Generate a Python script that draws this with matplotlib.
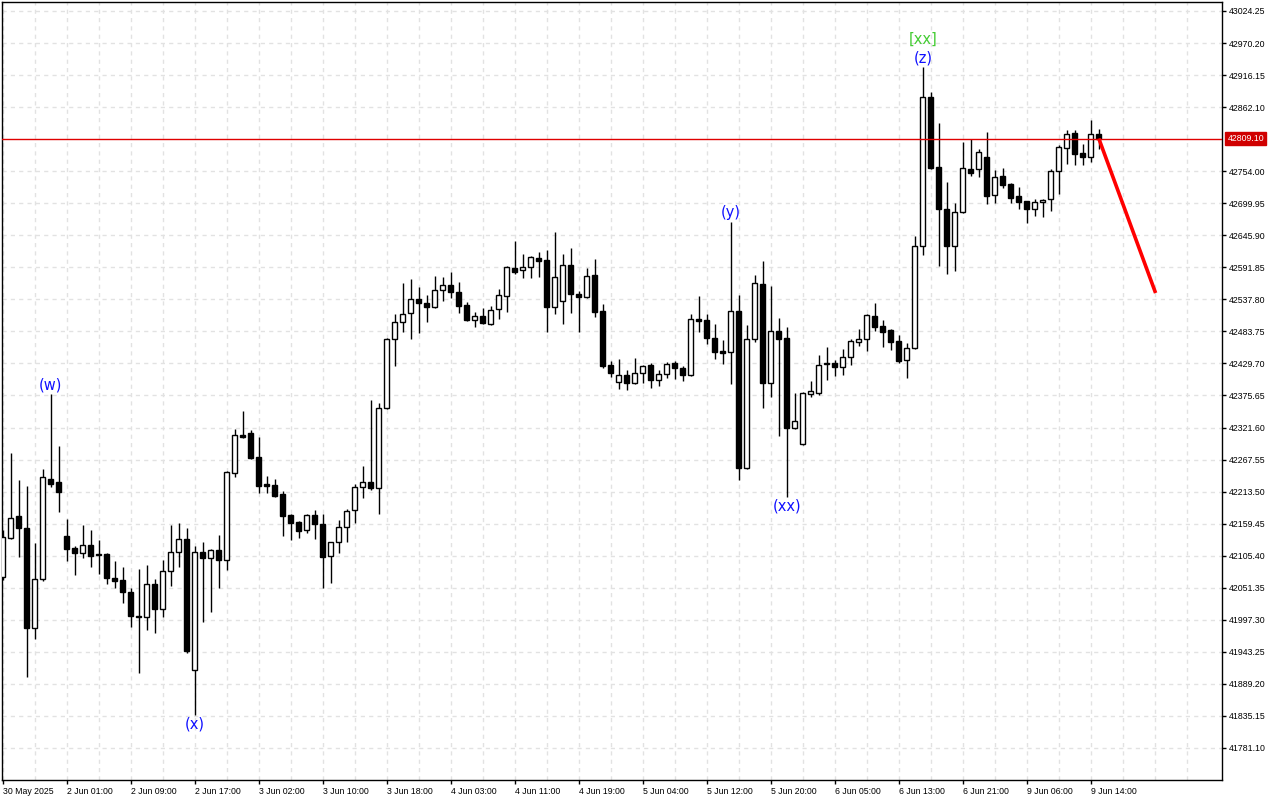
import matplotlib
matplotlib.use('Agg')
import matplotlib.pyplot as plt

# --- 資料 (H1 K線, 30 May - 9 Jun 2025) ---
opens = [42069.4, 42135.2, 42172.3, 42152.1, 41983.4, 42066.0, 42234.7, 42229.7, 42138.6, 42118.3,
         42109.9, 42123.4, 42107.5, 42107.5, 42067.7, 42064.3, 42044.1, 42003.6, 42001.9, 42057.6,
         42015.4, 42079.5, 42111.6, 42133.5, 41912.5, 42111.6, 42101.5, 42114.9, 42098.1, 42244.8,
         42309.0, 42312.3, 42271.9, 42226.3, 42224.6, 42208.7, 42174.0, 42162.2, 42148.7, 42174.0,
         42158.8, 42104.8, 42128.5, 42153.8, 42182.4, 42221.2, 42229.7, 42219.5, 42354.5, 42470.9,
         42499.6, 42514.8, 42538.4, 42531.6, 42524.9, 42553.6, 42562.0, 42550.2, 42528.3, 42502.9,
         42509.7, 42496.2, 42521.5, 42543.4, 42590.7, 42587.3, 42592.4, 42607.5, 42604.2, 42524.9,
         42535.0, 42595.8, 42546.8, 42541.8, 42578.9, 42518.2, 42427.1, 42398.4, 42410.2, 42396.7,
         42413.6, 42427.1, 42401.8, 42411.9, 42430.4, 42422.0, 42410.2, 42504.6, 42502.9, 42472.6,
         42450.7, 42449.0, 42518.2, 42253.3, 42470.9, 42563.7, 42396.7, 42484.4, 42472.6, 42320.8,
         42293.8, 42378.1, 42379.8, 42428.7, 42430.4, 42423.7, 42440.6, 42465.8, 42470.9, 42509.7,
         42492.8, 42486.1, 42467.5, 42435.5, 42455.7, 42627.8, 42879.2, 42761.1, 42690.2, 42627.8,
         42685.2, 42757.7, 42757.7, 42777.9, 42713.8, 42745.9, 42732.4, 42712.1, 42703.7, 42690.2,
         42702.0, 42707.1, 42754.3, 42793.1, 42818.4, 42784.7, 42777.9, 42816.7]
highs = [42148.7, 42278.6, 42233.0, 42222.9, 42126.8, 42251.6, 42378.1, 42290.4, 42167.2, 42121.7,
         42157.1, 42148.7, 42131.8, 42110.0, 42096.4, 42086.3, 42050.8, 42082.9, 42089.6, 42066.0,
         42098.1, 42157.1, 42160.5, 42152.1, 42121.7, 42128.5, 42116.6, 42140.2, 42248.2, 42319.1,
         42349.4, 42317.4, 42305.6, 42239.8, 42234.7, 42214.5, 42175.0, 42163.9, 42175.6, 42182.4,
         42175.6, 42129.0, 42165.5, 42184.1, 42226.3, 42256.7, 42368.0, 42362.9, 42472.6, 42513.1,
         42565.4, 42572.1, 42558.6, 42545.1, 42577.2, 42575.5, 42583.9, 42567.1, 42533.3, 42516.5,
         42523.2, 42526.6, 42555.3, 42594.1, 42636.2, 42614.3, 42610.9, 42617.7, 42621.0, 42651.4,
         42614.3, 42624.4, 42551.9, 42590.7, 42605.9, 42529.9, 42433.8, 42437.2, 42418.6, 42438.9,
         42427.1, 42430.4, 42418.6, 42432.1, 42433.8, 42425.4, 42513.1, 42543.4, 42513.1, 42496.2,
         42469.2, 42668.3, 42545.1, 42494.5, 42578.9, 42602.5, 42560.3, 42506.3, 42491.1, 42379.8,
         42381.0, 42400.1, 42443.9, 42457.4, 42435.5, 42454.0, 42470.9, 42487.8, 42513.1, 42531.6,
         42502.9, 42487.8, 42477.7, 42464.1, 42644.7, 42929.7, 42887.6, 42835.3, 42735.8, 42700.4,
         42803.3, 42808.3, 42791.4, 42820.1, 42756.0, 42759.4, 42734.1, 42727.3, 42703.7, 42707.1,
         42707.1, 42757.7, 42798.2, 42823.5, 42823.5, 42799.9, 42840.4, 42825.2]
lows = [42064.3, 42133.0, 42103.1, 41900.7, 41964.8, 42062.7, 42221.2, 42179.1, 42096.4, 42072.8,
        42101.5, 42086.3, 42074.5, 42057.6, 42050.8, 42025.5, 41985.1, 41907.4, 41980.0, 41974.9,
        42001.9, 42054.2, 42086.3, 41941.3, 41836.6, 41993.5, 42010.4, 42050.8, 42081.2, 42238.1,
        42304.0, 42268.5, 42211.1, 42211.1, 42204.4, 42138.6, 42131.8, 42135.2, 42143.6, 42133.5,
        42050.8, 42059.3, 42109.9, 42128.5, 42160.5, 42202.7, 42216.2, 42175.6, 42352.8, 42425.4,
        42482.7, 42470.9, 42481.0, 42499.6, 42523.2, 42535.0, 42540.1, 42514.8, 42501.5, 42491.1,
        42496.2, 42494.5, 42504.6, 42516.5, 42580.6, 42573.8, 42573.8, 42575.5, 42482.7, 42513.1,
        42496.2, 42514.8, 42482.7, 42540.1, 42508.0, 42422.0, 42406.8, 42386.6, 42384.9, 42395.0,
        42396.7, 42388.3, 42391.6, 42405.1, 42403.4, 42400.1, 42408.5, 42482.7, 42462.5, 42437.2,
        42428.7, 42395.0, 42233.0, 42251.6, 42465.8, 42354.5, 42373.1, 42307.3, 42204.4, 42319.1,
        42292.1, 42373.1, 42376.4, 42401.8, 42408.5, 42410.2, 42427.1, 42459.1, 42450.7, 42484.4,
        42457.4, 42452.3, 42430.4, 42405.1, 42454.0, 42612.6, 42757.7, 42594.1, 42580.6, 42585.6,
        42683.5, 42745.9, 42744.2, 42698.6, 42700.4, 42725.6, 42700.4, 42690.2, 42666.6, 42678.4,
        42676.7, 42686.9, 42715.5, 42766.1, 42764.4, 42764.4, 42769.5, 42791.4]
closes = [42136.9, 42168.9, 42152.1, 41983.4, 42066.0, 42238.1, 42226.3, 42212.8, 42116.6, 42109.9,
          42123.4, 42104.8, 42106.5, 42067.7, 42062.7, 42044.1, 42003.6, 42001.9, 42057.6, 42015.4,
          42079.5, 42111.6, 42133.5, 41944.6, 42111.6, 42101.5, 42114.9, 42098.1, 42246.5, 42309.0,
          42305.6, 42270.2, 42222.9, 42222.9, 42206.1, 42172.3, 42160.5, 42147.0, 42174.0, 42158.8,
          42103.1, 42128.5, 42153.8, 42180.7, 42221.2, 42229.7, 42219.5, 42354.5, 42470.9, 42499.6,
          42513.1, 42538.4, 42531.6, 42524.9, 42553.6, 42562.0, 42550.2, 42526.6, 42502.9, 42509.7,
          42497.9, 42519.8, 42545.1, 42592.4, 42583.9, 42592.4, 42609.2, 42602.5, 42524.9, 42575.5,
          42595.8, 42546.8, 42541.8, 42577.2, 42516.5, 42425.4, 42413.6, 42410.2, 42396.7, 42413.6,
          42425.4, 42401.8, 42411.9, 42428.7, 42422.0, 42410.2, 42504.6, 42501.2, 42472.6, 42449.0,
          42447.3, 42518.2, 42253.3, 42470.9, 42565.4, 42396.7, 42484.4, 42470.9, 42320.8, 42332.6,
          42379.8, 42383.2, 42427.1, 42430.4, 42423.7, 42440.6, 42467.5, 42470.9, 42511.4, 42491.1,
          42482.7, 42465.8, 42433.8, 42455.7, 42627.8, 42879.2, 42759.4, 42690.2, 42627.8, 42685.2,
          42759.4, 42751.0, 42786.4, 42712.1, 42744.2, 42730.7, 42708.8, 42702.0, 42690.2, 42702.0,
          42705.4, 42754.3, 42794.8, 42816.7, 42783.0, 42777.9, 42816.7, 42809.1]

# 時間軸標籤 (每 8 根一個)
time_labels = ['30 May 2025', '2 Jun 01:00', '2 Jun 09:00', '2 Jun 17:00', '3 Jun 02:00',
               '3 Jun 10:00', '3 Jun 18:00', '4 Jun 03:00', '4 Jun 11:00', '4 Jun 19:00',
               '5 Jun 04:00', '5 Jun 12:00', '5 Jun 20:00', '6 Jun 05:00', '6 Jun 13:00',
               '6 Jun 21:00', '9 Jun 06:00', '9 Jun 14:00']
price_ticks = [43024.25, 42970.20, 42916.15, 42862.10, 42754.00, 42699.95, 42645.90,
               42591.85, 42537.80, 42483.75, 42429.70, 42375.65, 42321.60, 42267.55,
               42213.50, 42159.45, 42105.40, 42051.35, 41997.30, 41943.25, 41889.20,
               41835.15, 41781.10]
current_price = 42809.10

# 波浪標記: (bar index, text, 位置, 顏色)
wave_labels = [(6, '(w)', 'high'), (24, '(x)', 'low'), (91, '(y)', 'high'),
               (98, '(xx)', 'low'), (115, '(z)', 'high')]
forecast_x = [137, 144.1]
forecast_y = [42809.1, 42548.5]

plt.rcParams['font.family'] = ['Liberation Sans', 'DejaVu Sans']

fig = plt.figure(figsize=(12.8, 8), dpi=100)
ax = fig.add_axes([2 / 1280, 20 / 800, 1220 / 1280, 778 / 800])

# 畫 K 線
for i in range(len(opens)):
    o, h, l, c = opens[i], highs[i], lows[i], closes[i]
    ax.vlines(i, l, h, color='black', linewidth=1, zorder=2)
    bottom = min(o, c)
    height = max(abs(c - o), 0.5)
    face = 'white' if c >= o else 'black'
    ax.bar(i, height, bottom=bottom, width=0.62, color=face, edgecolor='black',
           linewidth=1, zorder=3)

# 現價線與預測線
ax.axhline(current_price, color='#e00000', linewidth=1, zorder=4)
ax.plot(forecast_x, forecast_y, color='#ff0000', linewidth=2.6, zorder=5,
        solid_capstyle='butt')

# 波浪文字
for idx, txt, pos in wave_labels:
    if pos == 'high':
        ax.annotate(txt, (idx, highs[idx]), xytext=(0, 6.5), textcoords='offset points',
                    ha='center', va='center', color='#1010ff', fontsize=10.5,
                    family='DejaVu Sans', zorder=6)
    else:
        ax.annotate(txt, (idx, lows[idx]), xytext=(0, -6.5), textcoords='offset points',
                    ha='center', va='center', color='#1010ff', fontsize=10.5,
                    family='DejaVu Sans', zorder=6)
ax.annotate('[xx]', (115, highs[115]), xytext=(0, 20), textcoords='offset points',
            ha='center', va='center', color='#44cc33', fontsize=10.5,
            family='DejaVu Sans', zorder=6)

# 軸設定
ax.set_xlim(-0.1, 152.4)
ax.set_ylim(41727.0, 43039.4)
ax.set_xticks(range(0, 8 * len(time_labels), 8))
ax.set_xticklabels(time_labels, ha='left', fontsize=6.3)
ax.set_xticks(range(4, 152, 4), minor=True)
ax.yaxis.tick_right()
ax.set_yticks(price_ticks)
ax.set_yticklabels(['%.2f' % p for p in price_ticks], fontsize=6.3)
ax.tick_params(axis='y', length=3, width=1, pad=2, color='black')
ax.tick_params(axis='x', which='major', length=3, width=1, pad=2)
ax.tick_params(axis='x', which='minor', length=0)

# 虛線網格
ax.grid(True, which='minor', axis='x', color='#e2e2e2', linestyle=(0, (3, 3)), linewidth=1)
ax.grid(True, which='major', axis='x', color='#e2e2e2', linestyle=(0, (3, 3)), linewidth=1)
ax.grid(True, which='major', axis='y', color='#e2e2e2', linestyle=(0, (3, 3)), linewidth=1)
ax.set_axisbelow(True)
for s in ax.spines.values():
    s.set_color('black')
    s.set_linewidth(1)

# 右側現價標籤
ax.annotate('%.2f' % current_price, (1, current_price), xycoords=('axes fraction', 'data'),
            xytext=(4, 0), textcoords='offset points', ha='left', va='center',
            fontsize=6.3, color='white', annotation_clip=False,
            bbox=dict(boxstyle='square,pad=0.25', fc='#d00000', ec='#d00000'))

fig.savefig('out.png', dpi=100)
